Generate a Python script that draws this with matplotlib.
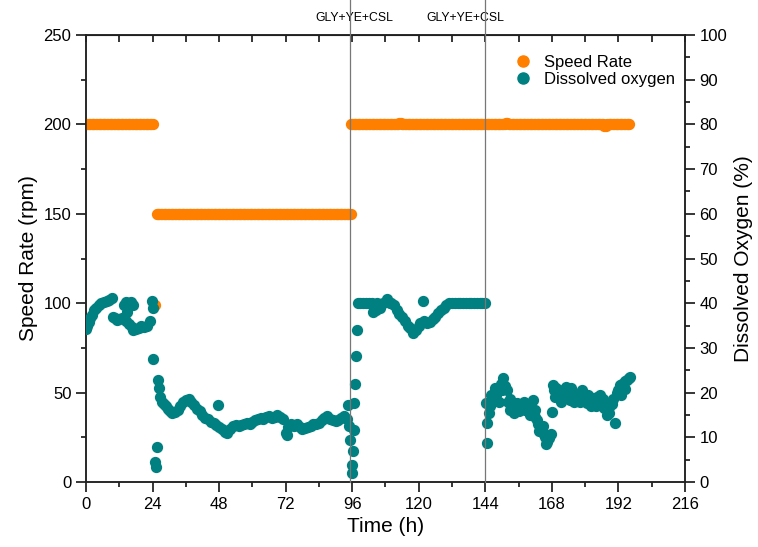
import numpy as np
import matplotlib.pyplot as plt
from matplotlib.lines import Line2D
import matplotlib.transforms as mtransforms

plt.rcParams['font.family'] = ['Liberation Sans', 'DejaVu Sans']

# Speed rate (rpm), logged every 0.5 h
speed_t1 = np.arange(0, 24.5, 0.5)
speed_v1 = [200] * 49
speed_t2 = [25.0]
speed_v2 = [99]
speed_t3 = np.arange(25.5, 96.0, 0.5)
speed_v3 = [150] * 141
speed_t4 = np.arange(95.5, 196.5, 0.5)
speed_v4 = ([200] * 35 + [201] * 2 + [200] * 75 + [201] * 2 + [200] * 69
            + [199] * 2 + [200] * 17)

# Dissolved oxygen (%), one pair of lists per phase
do_t_a = [0, 0.5, 1, 1.5, 2, 2.8, 3.5, 4.6, 5.5, 6.5,
          7.4, 8.2, 9.4, 9.6, 10.3, 11.2, 12.0, 13.0, 13.6, 14.3,
          14.8, 15.4, 16.2, 17.0, 14.5, 15.5, 16.5, 17.0, 18.0, 19.0,
          20.0, 21.0, 21.9, 23.0, 23.8, 24.0]
do_v_a = [34.3, 35.0, 35.8, 36.6, 37.4, 38.5, 39.0, 39.7, 40.0, 40.3,
          40.5, 40.8, 41.1, 37.0, 36.6, 36.3, 36.5, 36.7, 39.6, 40.2,
          38.0, 39.8, 40.3, 39.6, 36.0, 35.3, 34.6, 34.0, 34.3, 34.5,
          34.8, 34.7, 35.0, 36.0, 40.5, 39.0]

do_t_b = [24.3, 24.8, 25.1, 25.5, 25.9, 26.2, 26.7, 27.3, 28.0, 28.7,
          29.5, 30.3, 31, 32, 33, 34, 35, 36, 37, 38,
          39, 40, 41, 42, 43, 44, 45, 46, 47.6, 47,
          48, 49, 50, 51, 52, 53, 54, 55, 56, 57,
          58, 59, 60, 61, 62, 63, 64, 65, 66, 67,
          68, 69, 70, 71, 72, 72.5, 73, 74, 75, 76,
          77, 78, 79, 80, 81, 82, 83, 84, 85, 86,
          87, 88, 89, 90, 91, 92, 93, 94, 94.6, 95.0,
          95.3]
do_v_b = [27.5, 4.5, 3.4, 7.8, 22.8, 21.0, 19.0, 18.0, 17.5, 17.0,
          16.3, 15.8, 15.5, 15.6, 16.2, 17.0, 17.8, 18.4, 18.6, 18.0,
          17.2, 16.4, 15.8, 15.0, 14.3, 14.0, 13.5, 13.2, 17.2, 12.8,
          12.3, 11.8, 11.3, 11.0, 11.8, 12.5, 12.8, 12.6, 12.8, 13.0,
          13.2, 13.0, 13.4, 13.8, 14.2, 14.4, 14.0, 14.6, 14.8, 14.3,
          14.6, 14.9, 14.5, 14.2, 11.0, 10.5, 12.4, 13.0, 12.6, 12.9,
          12.2, 11.8, 12.0, 12.4, 12.6, 12.9, 13.0, 13.3, 13.8, 14.3,
          14.8, 14.2, 13.8, 13.6, 13.9, 14.3, 14.7, 14.2, 17.2, 12.5,
          9.5]

do_t_c = [96.0, 96.1, 96.3, 96.6, 96.8, 97.0, 97.3, 97.6,
          98, 99, 100, 101, 102, 103, 103.5, 104.5, 105, 106,
          107, 108.5, 109.5, 110, 111, 112, 113, 114, 115, 116,
          117, 118, 119, 120, 120.5, 121.5, 122, 123, 124, 125,
          126, 127, 128, 129, 130, 131, 132, 133, 134, 135,
          136, 137, 138, 139, 140, 141, 142, 143, 144]
do_v_c = [2.0, 3.8, 7.0, 11.6, 17.7, 22.0, 28.2, 34.0,
          40, 40, 40, 40, 40, 40, 38.0, 38.5, 40, 39.0,
          40, 41.0, 40, 40, 39.6, 38.5, 37.5, 37.0, 36.0, 35.0,
          34.4, 33.3, 34.0, 35.0, 35.5, 40.5, 36.0, 35.5, 35.8, 36.5,
          37.0, 37.8, 38.5, 39.0, 39.6, 40, 40, 40, 40, 40,
          40, 40, 40, 40, 40, 40, 40, 40, 40]

do_t_d = [144.2, 144.5, 144.8, 145.3, 145.8, 146.5, 147.2, 148.0, 148.8, 149.6, 150.4, 151.0, 151.7,
          152.3, 152.9, 153.6, 154.4, 155.4, 156.2, 157.0, 157.7, 158.5, 159.3, 160.0, 161.2, 161.8,
          162.5, 163.2, 164.0, 164.8, 165.5, 166.2, 167.0, 167.6, 168.0, 168.4, 168.8, 169.3, 170.0,
          171.0, 172.0, 173.0, 174.0, 174.5, 175.5, 176.5, 177.5, 178.3, 179.0, 180.0, 180.6, 181.5,
          182.5, 183.4, 184.2, 185.0, 186.0, 187.0, 187.9, 188.8, 189.8, 190.8, 191.5, 192.0, 192.6,
          193.5, 194.3, 195.0, 195.7, 196.2,
          146.0, 147.5, 149.0, 150.0, 153.0, 154.5, 156.0, 158.0, 159.0, 162.0,
          163.5, 165.0, 166.0, 169.5, 171.5, 173.5, 175.0, 176.0, 178.0, 179.5,
          181.0, 182.0, 184.0, 185.5, 186.5, 188.5, 190.0, 193.0, 194.5]
do_v_d = [17.7, 8.7, 13.2, 15.5, 17.0, 18.0, 18.3, 19.5, 20.5, 22.0, 23.3, 21.5, 20.6,
          18.0, 16.1, 16.5, 17.0, 17.7, 17.2, 16.8, 16.6, 16.2, 15.8, 15.0, 18.3, 14.5,
          13.8, 13.0, 12.0, 11.0, 10.0, 9.0, 9.8, 10.8, 15.7, 21.7, 20.5, 19.0, 20.2,
          19.5, 20.6, 21.3, 20.3, 18.3, 19.2, 19.6, 19.2, 20.0, 20.6, 19.0, 17.7, 18.6,
          18.9, 18.5, 19.0, 18.3, 17.7, 16.5, 15.0, 16.8, 17.5, 13.2, 19.9, 20.5, 21.7,
          22.0, 22.5, 22.8, 23.2, 23.5,
          19.5, 21.0, 18.0, 20.5, 18.5, 15.5, 15.8, 18.0, 17.0, 16.0,
          11.5, 12.5, 8.5, 21.0, 18.0, 19.0, 21.0, 18.0, 17.8, 18.5,
          19.5, 17.0, 17.0, 19.5, 18.5, 15.5, 18.5, 19.5, 20.8]

feed_times = [95.2, 143.8]
feed_labels = ['GLY+YE+CSL', 'GLY+YE+CSL']
feed_label_x = [96.6, 136.7]

orange = '#FF7F00'
teal = '#008080'

fig = plt.figure(figsize=(7.58, 5.47), dpi=100)
ax = fig.add_axes([0.1135, 0.1188, 0.79, 0.8172])
ax2 = ax.twinx()

for t, v in [(speed_t1, speed_v1), (speed_t2, speed_v2), (speed_t3, speed_v3), (speed_t4, speed_v4)]:
    ax.scatter(t, v, s=66, color=orange, linewidths=0, zorder=3)
for t, v in [(do_t_a, do_v_a), (do_t_b, do_v_b), (do_t_c, do_v_c), (do_t_d, do_v_d)]:
    ax2.scatter(t, v, s=66, color=teal, linewidths=0, zorder=3)

ax.set_xlim(0, 216)
ax.set_ylim(0, 250)
ax2.set_ylim(0, 100)

ax.set_xticks(np.arange(0, 217, 24))
ax.set_xticks(np.arange(0, 217, 12), minor=True)
ax.set_yticks(np.arange(0, 251, 50))
ax.set_yticks(np.arange(0, 251, 25), minor=True)
ax2.set_yticks(np.arange(0, 101, 10))
ax2.set_yticks(np.arange(0, 101, 5), minor=True)

for a in (ax, ax2):
    a.tick_params(which='major', length=7, width=1.1, labelsize=12, direction='out')
    a.tick_params(which='minor', length=3.5, width=1.1, direction='out')
    for sp in a.spines.values():
        sp.set_linewidth(1.1)
        sp.set_color('#222222')

top = ax.secondary_xaxis('top')
top.set_xticks(np.arange(0, 217, 12))
top.tick_params(direction='in', length=5, width=1.1, labeltop=False)

ax.set_xlabel('Time (h)', fontsize=15)
ax.set_ylabel('Speed Rate (rpm)', fontsize=15)
ax2.set_ylabel('Dissolved Oxygen (%)', fontsize=15, labelpad=5)

trans = mtransforms.blended_transform_factory(ax.transData, ax.transAxes)
for x in feed_times:
    ax2.plot([x, x], [0, 1.08], transform=trans, color='#777777', lw=0.9,
             clip_on=False, zorder=5)
for x, lab in zip(feed_label_x, feed_labels):
    ax.text(x, 1.038, lab, transform=trans, ha='center', va='center', fontsize=8.8)

handles = [Line2D([], [], marker='o', ls='', color=orange, markersize=8, label='Speed Rate'),
           Line2D([], [], marker='o', ls='', color=teal, markersize=8, label='Dissolved oxygen')]
ax2.legend(handles=handles, loc='upper left', bbox_to_anchor=(0.69, 0.97), frameon=False,
           fontsize=12, handletextpad=0.3, labelspacing=0.1, borderaxespad=0)

fig.savefig('out.png', dpi=100)
